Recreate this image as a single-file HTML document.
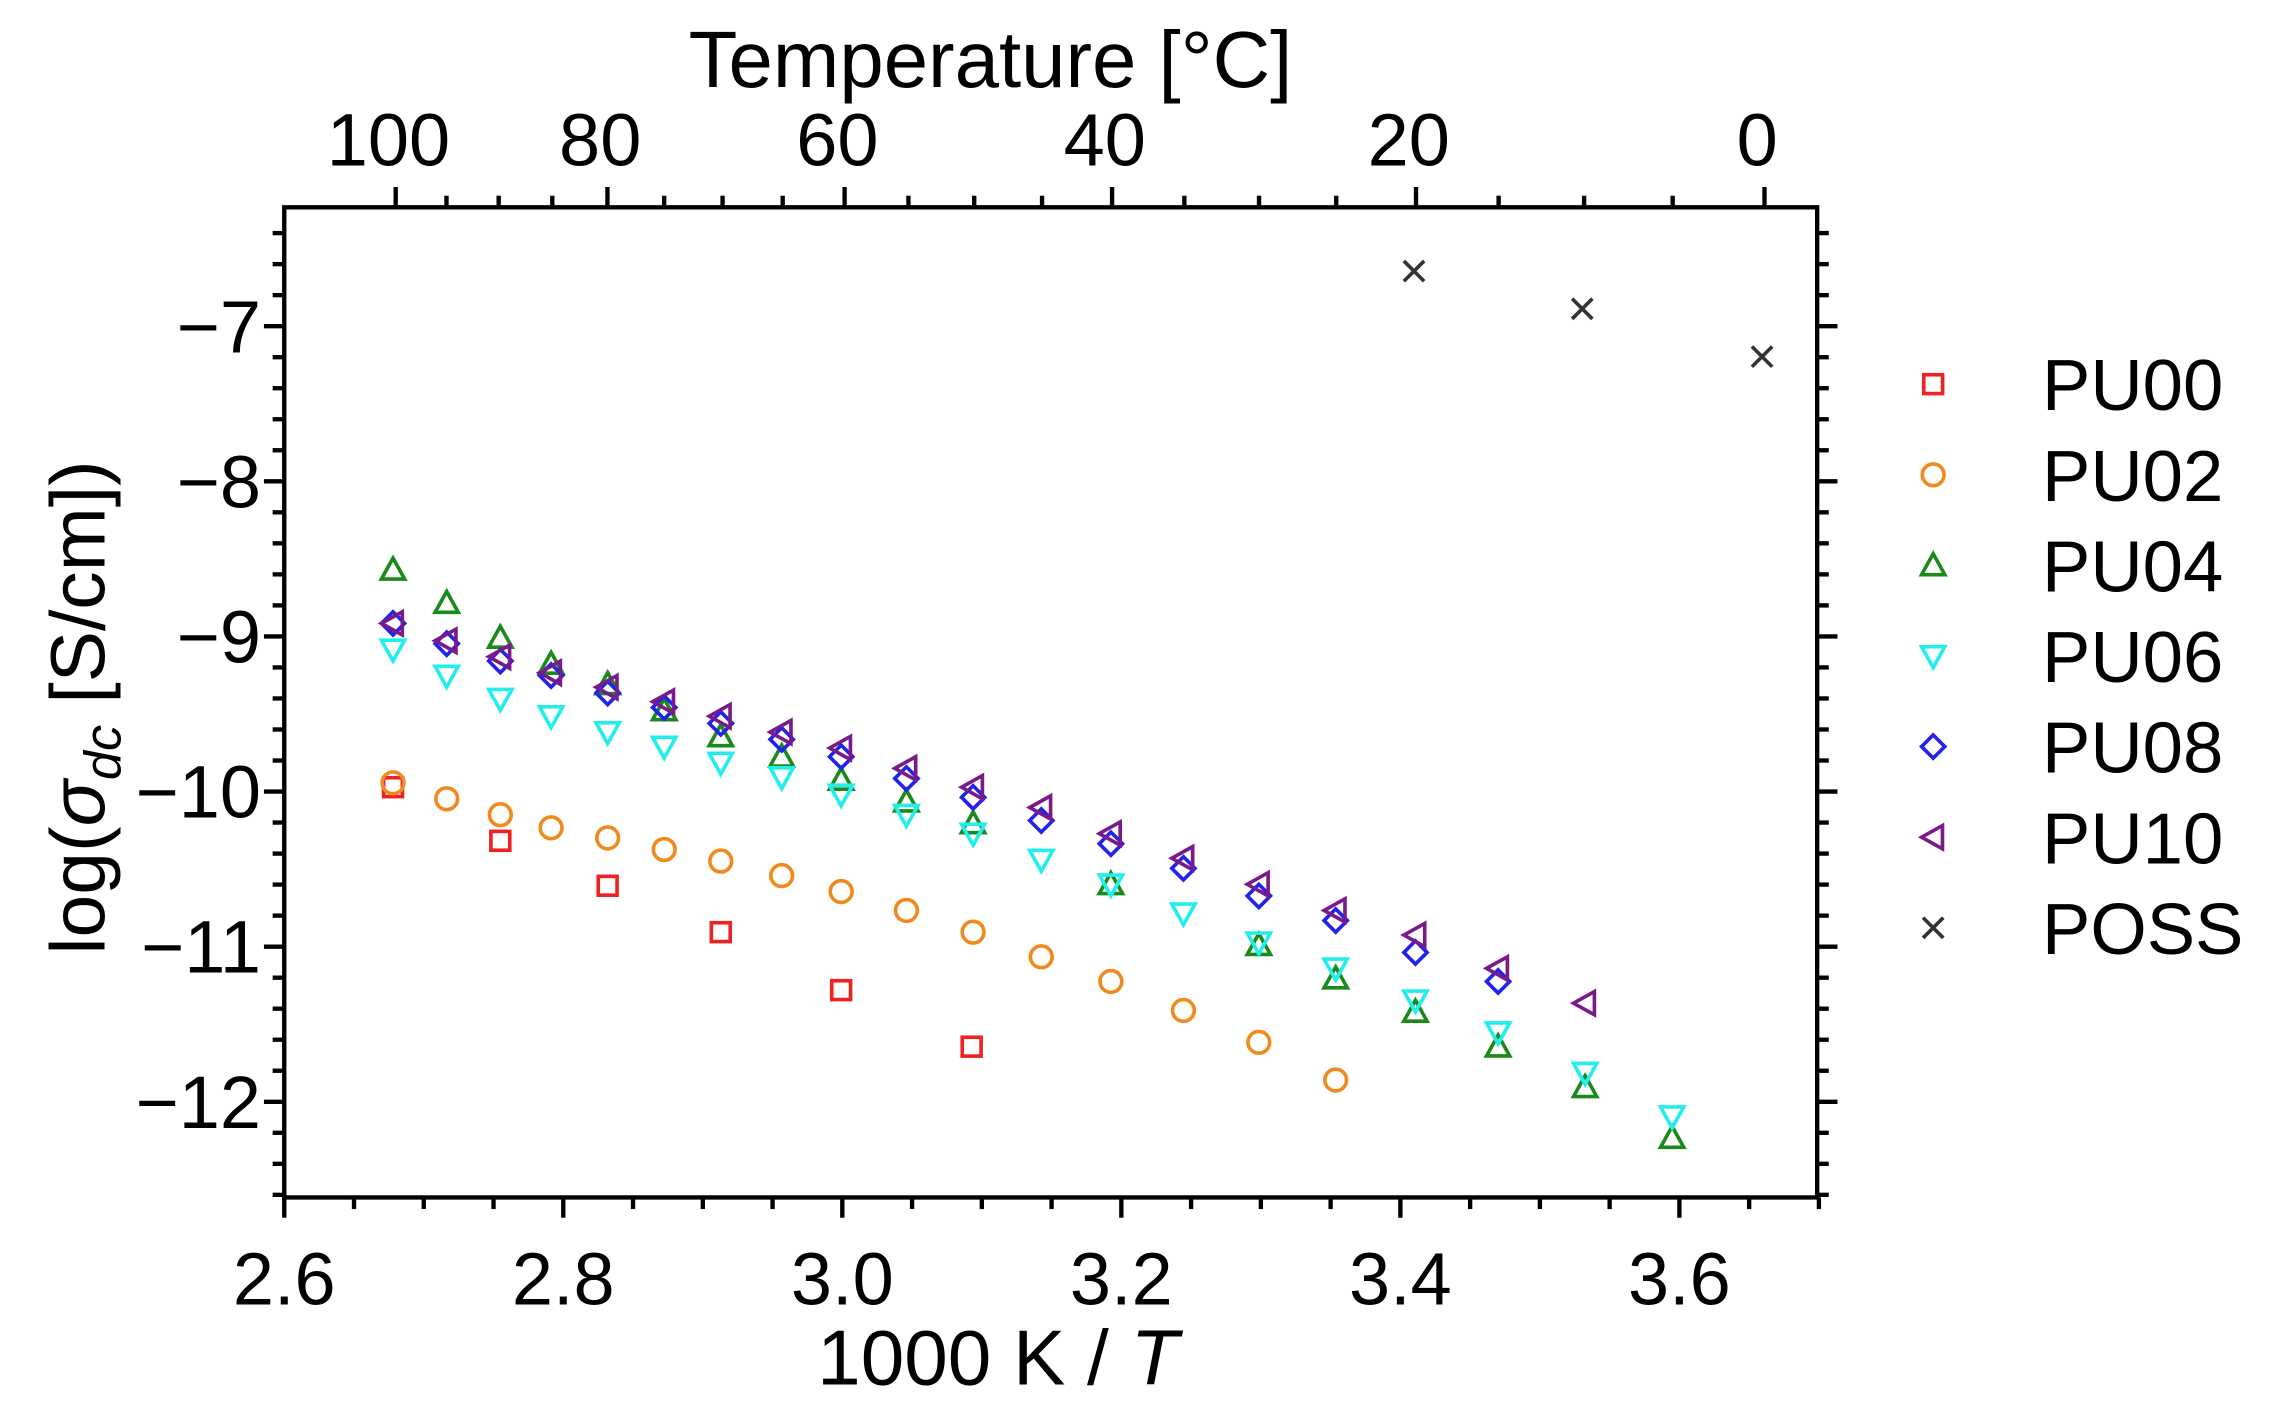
<!DOCTYPE html>
<html><head><meta charset="utf-8"><style>html,body{margin:0;padding:0;background:#fff}svg{display:block}</style></head>
<body>
<svg id="s" xmlns="http://www.w3.org/2000/svg" width="2274" height="1412" viewBox="0 0 1568 974" preserveAspectRatio="none" font-family="Liberation Sans, sans-serif">
<rect width="1568" height="974" fill="#fff"/>
<g id="axes" stroke="#000" stroke-width="3" fill="none"></g>
<g id="pts" fill="none" stroke-width="2.5"></g>
<g font-size="51" fill="#000" id="lbl"></g>
<text x="683" y="60" font-size="55" text-anchor="middle">Temperature [°C]</text>
<text x="688" y="955" font-size="54" text-anchor="middle">1000 K / <tspan font-style="italic">T</tspan></text>
<text transform="translate(72,488) rotate(-90)" font-size="53" text-anchor="middle">log(<tspan font-style="italic">σ</tspan><tspan font-style="italic" font-size="36" dy="11">dc</tspan><tspan dy="-11"> [S/cm])</tspan></text>
<g font-size="50" id="leg"></g>
</svg>
<script>
const NS="http://www.w3.org/2000/svg";
function el(p,t,a,txt){const e=document.createElementNS(NS,t);for(const k in a)e.setAttribute(k,a[k]);if(txt!=null)e.textContent=txt;document.getElementById(p).appendChild(e);return e;}
const L=196,R=1253,T=143,B=826;
const X=v=>196+962*(v-2.6), Y=v=>225+107*(-7-v);
el('axes','rect',{x:L,y:T,width:R-L,height:B-T});
for(let v=2.6;v<=3.71;v+=0.05){const x=X(v);const maj=Math.abs(Math.round(v*10)%2)==0&&Math.abs(v*10-Math.round(v*10))<1e-6;const len=maj?14:8;
 el('axes','line',{x1:x,y1:B,x2:x,y2:B+len});}
[2.6,2.8,3.0,3.2,3.4,3.6].forEach(v=>el('lbl','text',{x:X(v),y:900,'text-anchor':'middle'},v.toFixed(1)));
for(let t=0;t<=100;t+=5){const x=X(1000/(t+273.15));const maj=t%20==0;el('axes','line',{x1:x,y1:T,x2:x,y2:T-(maj?14:8)});}
[0,20,40,60,80,100].forEach(t=>el('lbl','text',{x:X(1000/(t+273.15))-5,y:114,'text-anchor':'middle'},t));
for(let i=0;i<=32;i++){const v=-6.2-i*0.2;const y=Y(v);if(y<T-1||y>B+1)continue;const maj=Math.abs(v-Math.round(v))<1e-6;const len=maj?14:8;
 el('axes','line',{x1:L,y1:y,x2:L-len,y2:y});el('axes','line',{x1:R,y1:y,x2:R+len,y2:y});}
[-7,-8,-9,-10,-11,-12].forEach(v=>el('lbl','text',{x:180,y:Y(v)+18,'text-anchor':'end'},'\u2212'+(-v)));
function mk(g,type,x,y,c){const s=8;
 if(type=='sq')el(g,'rect',{x:x-6.5,y:y-6.5,width:13,height:13,stroke:c});
 else if(type=='ci')el(g,'circle',{cx:x,cy:y,r:7.5,stroke:c});
 else if(type=='up')el(g,'polygon',{points:`${x},${y-s} ${x-s},${y+s*0.8} ${x+s},${y+s*0.8}`,stroke:c});
 else if(type=='dn')el(g,'polygon',{points:`${x},${y+s} ${x-s},${y-s*0.8} ${x+s},${y-s*0.8}`,stroke:c});
 else if(type=='di')el(g,'polygon',{points:`${x},${y-s} ${x+s},${y} ${x},${y+s} ${x-s},${y}`,stroke:c});
 else if(type=='lt')el(g,'polygon',{points:`${x-s},${y} ${x+s*0.8},${y-s} ${x+s*0.8},${y+s}`,stroke:c});
 else if(type=='x'){el(g,'line',{x1:x-7,y1:y-7,x2:x+7,y2:y+7,stroke:c});el(g,'line',{x1:x-7,y1:y+7,x2:x+7,y2:y-7,stroke:c});}
}
const S=[
['sq','#ee2222',[[271,543],[345,580],[419,611],[497,643],[580,683],[670,722]]],
['ci','#f08a1e',[[271,540],[308,551],[345,562],[380,571],[419,578],[458,586],[497,594],[539,604],[580,615],[625,628],[671,643],[718,660],[766,677],[816,697],[868,719],[921,745]]],
['up','#1a8a1a',[[271,393],[308,416],[345,440],[380,458],[419,472],[458,490],[497,508],[539,522],[580,538],[625,553],[671,568],[766,610],[868,652],[921,675],[976,698],[1033,722],[1093,750],[1153,785]]],
['dn','#22eeee',[[271,448],[308,466],[345,482],[380,494],[419,505],[458,515],[497,526],[539,536],[580,548],[625,562],[671,575],[718,593],[766,610],[816,630],[868,650],[921,668],[976,690],[1033,712],[1093,740],[1153,770]]],
['di','#2222ee',[[271,430],[308,444],[345,456],[380,466],[419,478],[458,488],[497,499],[539,510],[580,522],[625,537],[671,550],[718,566],[766,582],[816,599],[868,618],[921,635],[976,657],[1033,677]]],
['lt','#7a1a8a',[[271,430],[308,442],[345,453],[380,464],[419,474],[458,484],[497,494],[539,505],[580,516],[625,530],[671,543],[718,557],[766,575],[816,592],[868,610],[921,628],[976,645],[1033,668],[1093,692]]],
['x','#333',[[975,187],[1091,213],[1215,246]]]];
const names=['PU00','PU02','PU04','PU06','PU08','PU10','POSS'];
S.forEach((s,i)=>{s[2].forEach(p=>mk('pts',s[0],p[0],p[1],s[1]));
 const y=265+i*62.5;mk('leg',s[0],1333,y,s[1]);el('leg','text',{x:1408,y:y+18},names[i]);});
document.getElementById('leg').setAttribute('stroke-width','2.5');document.getElementById('leg').setAttribute('fill','none');
document.querySelectorAll('#leg text').forEach(t=>{t.setAttribute('fill','#000');t.setAttribute('stroke','none');});
</script>
</body></html>
